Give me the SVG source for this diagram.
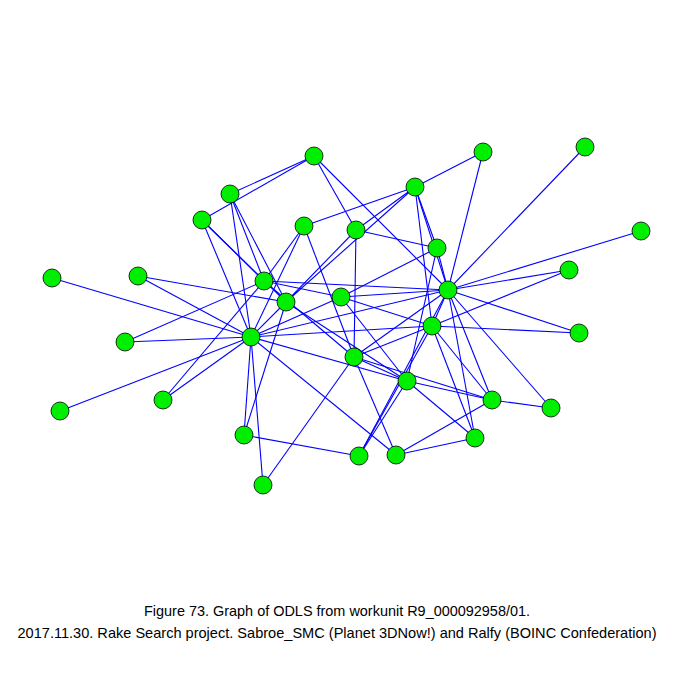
<svg xmlns="http://www.w3.org/2000/svg" width="675" height="675" viewBox="0 0 675 675">
<style>
.e{stroke:#0000ff;stroke-width:1.1;fill:none}
.n{fill:#00ee00;stroke:#000;stroke-width:0.8}
.t{font-family:"Liberation Sans Narrow","Liberation Sans",Arial,sans-serif;font-size:15px;fill:#000;text-anchor:middle}
</style>
<rect width="675" height="675" fill="#fff"/>
<g id="edges">
<line class="e" x1="314" y1="156" x2="230" y2="194"/>
<line class="e" x1="314" y1="156" x2="202" y2="220"/>
<line class="e" x1="314" y1="156" x2="356" y2="230"/>
<line class="e" x1="314" y1="156" x2="448" y2="290"/>
<line class="e" x1="483" y1="152" x2="415" y2="187"/>
<line class="e" x1="483" y1="152" x2="448" y2="290"/>
<line class="e" x1="585" y1="147" x2="448" y2="290"/>
<line class="e" x1="230" y1="194" x2="251" y2="337"/>
<line class="e" x1="230" y1="194" x2="264" y2="281"/>
<line class="e" x1="230" y1="194" x2="286" y2="302"/>
<line class="e" x1="202" y1="220" x2="264" y2="281"/>
<line class="e" x1="202" y1="220" x2="286" y2="302"/>
<line class="e" x1="202" y1="220" x2="251" y2="337"/>
<line class="e" x1="415" y1="187" x2="304" y2="226"/>
<line class="e" x1="415" y1="187" x2="356" y2="230"/>
<line class="e" x1="415" y1="187" x2="286" y2="302"/>
<line class="e" x1="415" y1="187" x2="437" y2="248"/>
<line class="e" x1="415" y1="187" x2="448" y2="290"/>
<line class="e" x1="415" y1="187" x2="432" y2="326"/>
<line class="e" x1="304" y1="226" x2="264" y2="281"/>
<line class="e" x1="304" y1="226" x2="251" y2="337"/>
<line class="e" x1="304" y1="226" x2="354" y2="357"/>
<line class="e" x1="356" y1="230" x2="286" y2="302"/>
<line class="e" x1="356" y1="230" x2="437" y2="248"/>
<line class="e" x1="356" y1="230" x2="354" y2="357"/>
<line class="e" x1="437" y1="248" x2="341" y2="297"/>
<line class="e" x1="437" y1="248" x2="448" y2="290"/>
<line class="e" x1="437" y1="248" x2="407" y2="381"/>
<line class="e" x1="641" y1="231" x2="448" y2="290"/>
<line class="e" x1="52" y1="278" x2="251" y2="337"/>
<line class="e" x1="138" y1="276" x2="251" y2="337"/>
<line class="e" x1="138" y1="276" x2="286" y2="302"/>
<line class="e" x1="264" y1="281" x2="125" y2="342"/>
<line class="e" x1="264" y1="281" x2="163" y2="400"/>
<line class="e" x1="264" y1="281" x2="448" y2="290"/>
<line class="e" x1="264" y1="281" x2="341" y2="297"/>
<line class="e" x1="264" y1="281" x2="354" y2="357"/>
<line class="e" x1="569" y1="270" x2="448" y2="290"/>
<line class="e" x1="569" y1="270" x2="432" y2="326"/>
<line class="e" x1="286" y1="302" x2="251" y2="337"/>
<line class="e" x1="286" y1="302" x2="244" y2="435"/>
<line class="e" x1="286" y1="302" x2="407" y2="381"/>
<line class="e" x1="341" y1="297" x2="251" y2="337"/>
<line class="e" x1="341" y1="297" x2="448" y2="290"/>
<line class="e" x1="341" y1="297" x2="432" y2="326"/>
<line class="e" x1="341" y1="297" x2="407" y2="381"/>
<line class="e" x1="448" y1="290" x2="432" y2="326"/>
<line class="e" x1="448" y1="290" x2="579" y2="333"/>
<line class="e" x1="448" y1="290" x2="354" y2="357"/>
<line class="e" x1="448" y1="290" x2="492" y2="400"/>
<line class="e" x1="448" y1="290" x2="551" y2="408"/>
<line class="e" x1="448" y1="290" x2="475" y2="438"/>
<line class="e" x1="448" y1="290" x2="251" y2="337"/>
<line class="e" x1="448" y1="290" x2="359" y2="456"/>
<line class="e" x1="432" y1="326" x2="579" y2="333"/>
<line class="e" x1="432" y1="326" x2="251" y2="337"/>
<line class="e" x1="432" y1="326" x2="354" y2="357"/>
<line class="e" x1="432" y1="326" x2="359" y2="456"/>
<line class="e" x1="432" y1="326" x2="492" y2="400"/>
<line class="e" x1="432" y1="326" x2="475" y2="438"/>
<line class="e" x1="125" y1="342" x2="251" y2="337"/>
<line class="e" x1="251" y1="337" x2="407" y2="381"/>
<line class="e" x1="251" y1="337" x2="60" y2="411"/>
<line class="e" x1="251" y1="337" x2="163" y2="400"/>
<line class="e" x1="251" y1="337" x2="244" y2="435"/>
<line class="e" x1="251" y1="337" x2="396" y2="455"/>
<line class="e" x1="251" y1="337" x2="263" y2="485"/>
<line class="e" x1="354" y1="357" x2="407" y2="381"/>
<line class="e" x1="354" y1="357" x2="396" y2="455"/>
<line class="e" x1="354" y1="357" x2="263" y2="485"/>
<line class="e" x1="354" y1="357" x2="492" y2="400"/>
<line class="e" x1="407" y1="381" x2="492" y2="400"/>
<line class="e" x1="407" y1="381" x2="475" y2="438"/>
<line class="e" x1="407" y1="381" x2="359" y2="456"/>
<line class="e" x1="492" y1="400" x2="396" y2="455"/>
<line class="e" x1="492" y1="400" x2="551" y2="408"/>
<line class="e" x1="475" y1="438" x2="396" y2="455"/>
<line class="e" x1="244" y1="435" x2="359" y2="456"/>
</g>
<g id="nodes">
<circle id="n1" class="n" cx="314" cy="156" r="9"/>
<circle id="n2" class="n" cx="483" cy="152" r="9"/>
<circle id="n3" class="n" cx="585" cy="147" r="9"/>
<circle id="n4" class="n" cx="230" cy="194" r="9"/>
<circle id="n5" class="n" cx="415" cy="187" r="9"/>
<circle id="n6" class="n" cx="202" cy="220" r="9"/>
<circle id="n7" class="n" cx="304" cy="226" r="9"/>
<circle id="n8" class="n" cx="356" cy="230" r="9"/>
<circle id="n9" class="n" cx="437" cy="248" r="9"/>
<circle id="n10" class="n" cx="641" cy="231" r="9"/>
<circle id="n11" class="n" cx="52" cy="278" r="9"/>
<circle id="n12" class="n" cx="138" cy="276" r="9"/>
<circle id="n13" class="n" cx="264" cy="281" r="9"/>
<circle id="n14" class="n" cx="569" cy="270" r="9"/>
<circle id="n15" class="n" cx="286" cy="302" r="9"/>
<circle id="n16" class="n" cx="341" cy="297" r="9"/>
<circle id="n17" class="n" cx="448" cy="290" r="9"/>
<circle id="n18" class="n" cx="432" cy="326" r="9"/>
<circle id="n19" class="n" cx="579" cy="333" r="9"/>
<circle id="n20" class="n" cx="125" cy="342" r="9"/>
<circle id="n21" class="n" cx="251" cy="337" r="9"/>
<circle id="n22" class="n" cx="354" cy="357" r="9"/>
<circle id="n23" class="n" cx="407" cy="381" r="9"/>
<circle id="n24" class="n" cx="60" cy="411" r="9"/>
<circle id="n25" class="n" cx="163" cy="400" r="9"/>
<circle id="n26" class="n" cx="492" cy="400" r="9"/>
<circle id="n27" class="n" cx="551" cy="408" r="9"/>
<circle id="n28" class="n" cx="244" cy="435" r="9"/>
<circle id="n29" class="n" cx="475" cy="438" r="9"/>
<circle id="n30" class="n" cx="359" cy="456" r="9"/>
<circle id="n31" class="n" cx="396" cy="455" r="9"/>
<circle id="n32" class="n" cx="263" cy="485" r="9"/>
</g>
<g id="caption">
<text class="t" x="337" y="616" textLength="386" lengthAdjust="spacingAndGlyphs">Figure 73. Graph of ODLS from workunit R9_000092958/01.</text>
<text class="t" x="337" y="638" textLength="639" lengthAdjust="spacingAndGlyphs">2017.11.30. Rake Search project. Sabroe_SMC (Planet 3DNow!) and Ralfy (BOINC Confederation)</text>
</g>
</svg>
